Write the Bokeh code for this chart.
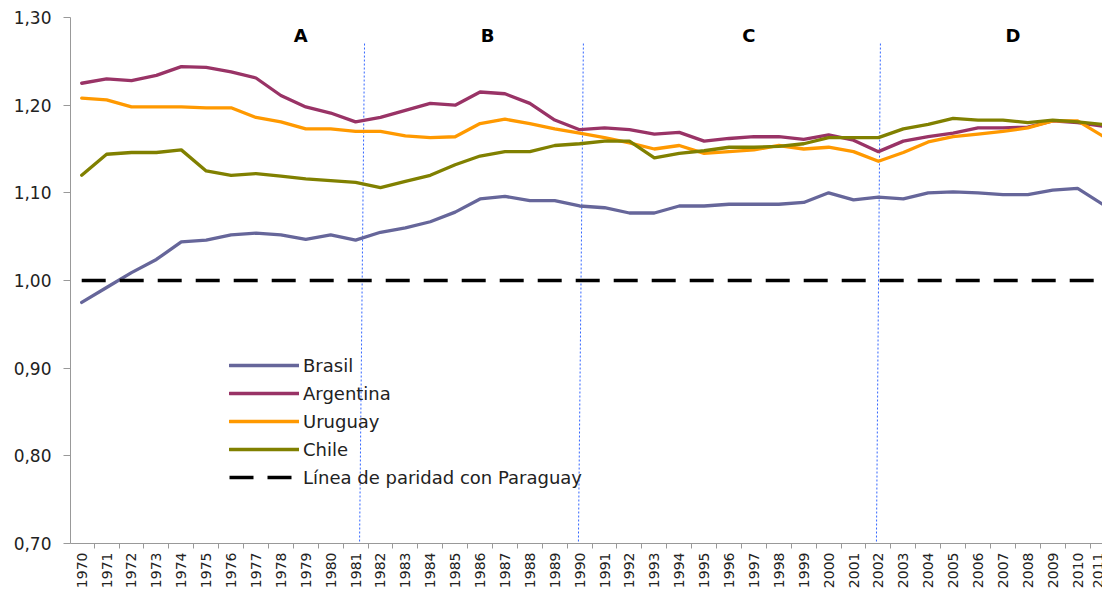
from bokeh.plotting import figure
from bokeh.models import (Range1d, FixedTicker, CustomJSTickFormatter, Legend, LegendItem,
                          ColumnDataSource)
from bokeh.core.properties import value
from bokeh.embed import file_html
from bokeh.resources import INLINE
import math

years = list(range(1970, 2012))
brasil = [0.975, 0.992, 1.009, 1.024, 1.044, 1.046, 1.052, 1.054, 1.052, 1.047,
          1.052, 1.046, 1.055, 1.060, 1.067, 1.078, 1.093, 1.096, 1.091, 1.091,
          1.085, 1.083, 1.077, 1.077, 1.085, 1.085, 1.087, 1.087, 1.087, 1.089,
          1.100, 1.092, 1.095, 1.093, 1.100, 1.101, 1.100, 1.098, 1.098, 1.103,
          1.105, 1.087]
argentina = [1.225, 1.230, 1.228, 1.234, 1.244, 1.243, 1.238, 1.231, 1.211, 1.198,
             1.191, 1.181, 1.186, 1.194, 1.202, 1.200, 1.215, 1.213, 1.202, 1.183,
             1.172, 1.174, 1.172, 1.167, 1.169, 1.159, 1.162, 1.164, 1.164, 1.161,
             1.166, 1.160, 1.147, 1.159, 1.164, 1.168, 1.174, 1.174, 1.175, 1.182,
             1.180, 1.176]
uruguay = [1.208, 1.206, 1.198, 1.198, 1.198, 1.197, 1.197, 1.186, 1.181, 1.173,
           1.173, 1.170, 1.170, 1.165, 1.163, 1.164, 1.179, 1.184, 1.179, 1.173,
           1.168, 1.163, 1.157, 1.150, 1.154, 1.145, 1.147, 1.149, 1.154, 1.150,
           1.152, 1.147, 1.136, 1.146, 1.158, 1.164, 1.167, 1.170, 1.174, 1.182,
           1.182, 1.165]
chile = [1.120, 1.144, 1.146, 1.146, 1.149, 1.125, 1.120, 1.122, 1.119, 1.116,
         1.114, 1.112, 1.106, 1.113, 1.120, 1.132, 1.142, 1.147, 1.147, 1.154,
         1.156, 1.159, 1.159, 1.140, 1.145, 1.148, 1.152, 1.152, 1.153, 1.156,
         1.163, 1.163, 1.163, 1.173, 1.178, 1.185, 1.183, 1.183, 1.180, 1.183,
         1.181, 1.178]
parity_value = 1.00
series_names = ["Brasil", "Argentina", "Uruguay", "Chile"]
parity_label = "Línea de paridad con Paraguay"
period_labels = ["A", "B", "C", "D"]
period_label_years = [1978.8, 1986.3, 1996.8, 2007.4]
period_label_y = 1.2795
# dividers (slightly slanted in the original): year at top, year at bottom
divider_top = [1981.36, 1990.15, 2002.08]
divider_bottom = [1981.16, 1989.95, 2001.92]
y_ticks = [0.70, 0.80, 0.90, 1.00, 1.10, 1.20, 1.30]

colors = ["#66669A", "#993366", "#FF9900", "#808000"]
FONT = "DejaVu Sans"

p = figure(width=1102, height=591, output_backend="svg", toolbar_location=None,
           x_range=Range1d(1969.55, 2011.0), y_range=Range1d(0.70, 1.30),
           min_border_left=70, min_border_right=0, min_border_top=17, min_border_bottom=48)
p.outline_line_color = None
p.xgrid.visible = False
p.ygrid.visible = False

# axes
p.yaxis.ticker = FixedTicker(ticks=y_ticks)
p.yaxis.formatter = CustomJSTickFormatter(code="return tick.toFixed(2).replace('.', ',');")
p.yaxis.major_tick_out = 7
p.yaxis.major_tick_in = 0
p.yaxis.minor_tick_line_color = None
p.yaxis.axis_line_color = "#999999"
p.yaxis.major_tick_line_color = "#999999"
p.yaxis.major_label_text_font = FONT
p.yaxis.major_label_text_font_size = "17px"
p.yaxis.major_label_text_color = "#222222"
p.yaxis.major_label_standoff = 12

p.xaxis.ticker = FixedTicker(ticks=years, minor_ticks=[y - 0.5 for y in years] + [years[-1] + 0.5])
p.xaxis.major_tick_line_color = None
p.xaxis.major_tick_out = 0
p.xaxis.major_tick_in = 0
p.xaxis.minor_tick_out = 5
p.xaxis.minor_tick_in = 0
p.xaxis.minor_tick_line_color = "#999999"
p.xaxis.axis_line_color = "#999999"
p.xaxis.major_label_orientation = math.pi / 2
p.xaxis.major_label_text_font = FONT
p.xaxis.major_label_text_font_size = "14px"
p.xaxis.major_label_text_color = "#222222"
p.xaxis.major_label_standoff = 4

# period dividers
p.segment(x0=divider_top, y0=[1.2703] * len(divider_top), x1=divider_bottom,
          y1=[0.70] * len(divider_bottom), line_color="#3366FF", line_width=1,
          line_dash="2 2")

renderers = []
for name, ys, c in zip(series_names, [brasil, argentina, uruguay, chile], colors):
    r = p.line(years, ys, line_color=c, line_width=3.3, line_join="round", line_cap="round")
    renderers.append((name, r))

rp = p.line([years[0], years[-1]], [parity_value, parity_value], line_color="black",
            line_width=3.5, line_dash="24 14")
renderers.append((parity_label, rp))

src = ColumnDataSource(dict(x=period_label_years, y=[period_label_y] * 4, t=period_labels))
p.text(x="x", y="y", text="t", source=src, text_font=value(FONT), text_font_style="bold",
       text_font_size="18px", text_align="center", text_baseline="middle", text_color="black")

legend = Legend(items=[LegendItem(label=n, renderers=[r]) for n, r in renderers],
                location=(159, 55), glyph_width=70, glyph_height=22, spacing=6,
                padding=0, margin=0, label_standoff=4, border_line_color=None,
                background_fill_alpha=0, label_text_font=FONT,
                label_text_font_size="18px", label_text_color="#222222")
p.add_layout(legend)

open("out.html", "w").write(file_html(p, INLINE))
